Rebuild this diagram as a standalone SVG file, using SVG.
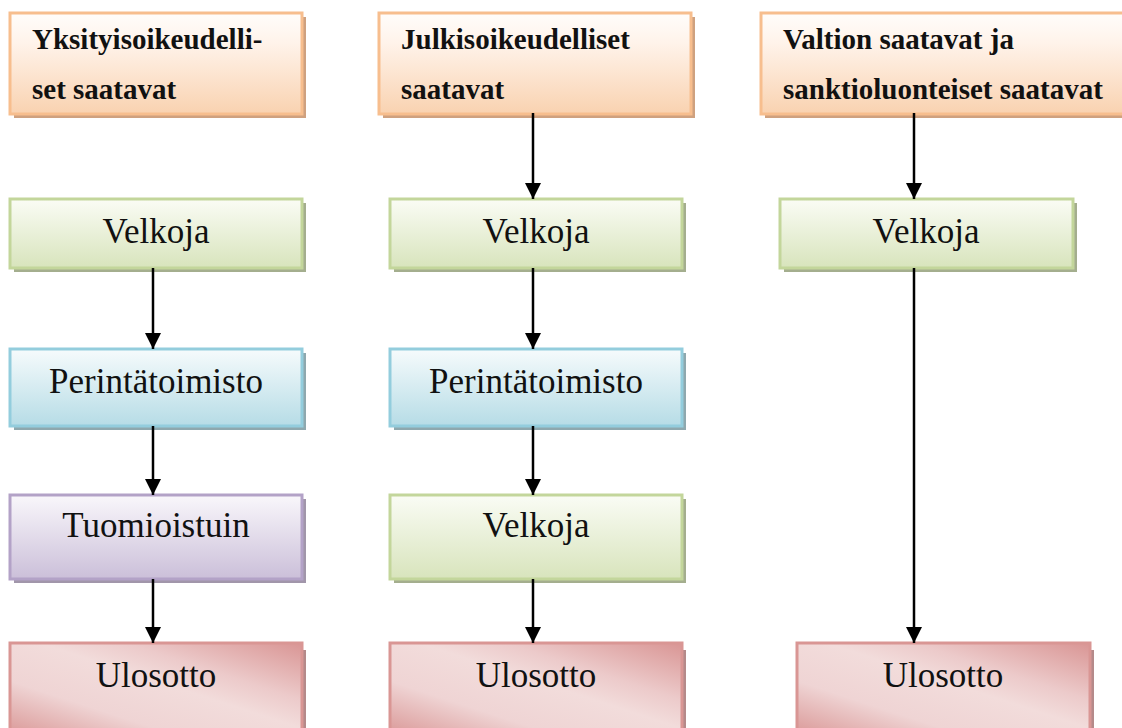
<svg xmlns="http://www.w3.org/2000/svg" width="1122" height="728" viewBox="0 0 1122 728">
<style>
.hdr{stroke:#f7be8e;stroke-width:3;fill:url(#gO)}
.hsh{fill:#cfa17f}
.grn{stroke:#c3d69b;stroke-width:3;fill:url(#gG)}
.gsh{fill:#a4ae8e}
.blu{stroke:#93cddd;stroke-width:3;fill:url(#gB)}
.bsh{fill:#8ea8ae}
.pur{stroke:#b3a2c7;stroke-width:3;fill:url(#gP)}
.psh{fill:#a196aa}
.red{stroke:#d99694;stroke-width:3;fill:url(#gR)}
.rsh{fill:#b58a8a}
.con line{stroke:#000;stroke-width:2.5;marker-end:url(#ah)}
</style>
<defs>
<linearGradient id="gO" x1="0" y1="0" x2="0" y2="1"><stop offset="0" stop-color="#fffdfb"/><stop offset="0.3" stop-color="#fff3ea"/><stop offset="1" stop-color="#f9d2b0"/></linearGradient>
<linearGradient id="gG" x1="0" y1="0" x2="0" y2="1"><stop offset="0" stop-color="#fafcf5"/><stop offset="1" stop-color="#d8e4bc"/></linearGradient>
<linearGradient id="gB" x1="0" y1="0" x2="0" y2="1"><stop offset="0" stop-color="#f6fbfc"/><stop offset="1" stop-color="#b6dce6"/></linearGradient>
<linearGradient id="gP" x1="0" y1="0" x2="0" y2="1"><stop offset="0" stop-color="#f9f7fb"/><stop offset="1" stop-color="#cbbfd9"/></linearGradient>
<linearGradient id="gR" x1="0" y1="1" x2="1" y2="0"><stop offset="0" stop-color="#d99594"/><stop offset="0.3" stop-color="#efd4d4"/><stop offset="0.55" stop-color="#f2dcdb"/><stop offset="0.7" stop-color="#eccaca"/><stop offset="1" stop-color="#d99594"/></linearGradient>
<marker id="ah" viewBox="0 0 10 10" refX="10" refY="5" markerUnits="userSpaceOnUse" markerWidth="16" markerHeight="16" orient="auto"><path d="M0,0 L10,5 L0,10 Z" fill="#000"/></marker>
</defs>
<g font-family="Liberation Serif" font-weight="bold" font-size="29" fill="#111">
<g id="h1"><rect class="hsh" x="14" y="17" width="292" height="101"/><rect class="hdr" x="10" y="13" width="292" height="101"/><text x="32" y="49">Yksityisoikeudelli-</text><text x="32" y="99">set saatavat</text></g>
<g id="h2"><rect class="hsh" x="383" y="17" width="312" height="101"/><rect class="hdr" x="379" y="13" width="312" height="101"/><text x="401" y="49">Julkisoikeudelliset</text><text x="401" y="99">saatavat</text></g>
<g id="h3"><rect class="hsh" x="765" y="17" width="362" height="101"/><rect class="hdr" x="761" y="13" width="364" height="101"/><text x="783" y="49">Valtion saatavat ja</text><text x="783" y="99">sanktioluonteiset saatavat</text></g>
</g>
<g font-family="Liberation Serif" font-size="35" fill="#111" text-anchor="middle">
<g id="v1"><rect class="gsh" x="14" y="203" width="292" height="69"/><rect class="grn" x="10" y="199" width="292" height="69"/><text x="156" y="243">Velkoja</text></g>
<g id="p1"><rect class="bsh" x="14" y="353" width="292" height="77"/><rect class="blu" x="10" y="349" width="292" height="77"/><text x="156" y="393">Perintätoimisto</text></g>
<g id="t1"><rect class="psh" x="14" y="499" width="292" height="84"/><rect class="pur" x="10" y="495" width="292" height="84"/><text x="156" y="537">Tuomioistuin</text></g>
<g id="u1"><rect class="rsh" x="14" y="650" width="292" height="90"/><rect class="red" x="10" y="643" width="292" height="95"/><text x="156" y="687">Ulosotto</text></g>

<g id="v2"><rect class="gsh" x="394" y="203" width="292" height="69"/><rect class="grn" x="390" y="199" width="292" height="69"/><text x="536" y="243">Velkoja</text></g>
<g id="p2"><rect class="bsh" x="394" y="353" width="292" height="77"/><rect class="blu" x="390" y="349" width="292" height="77"/><text x="536" y="393">Perintätoimisto</text></g>
<g id="v2b"><rect class="gsh" x="394" y="499" width="292" height="84"/><rect class="grn" x="390" y="495" width="292" height="84"/><text x="536" y="537">Velkoja</text></g>
<g id="u2"><rect class="rsh" x="394" y="650" width="292" height="90"/><rect class="red" x="390" y="643" width="292" height="95"/><text x="536" y="687">Ulosotto</text></g>

<g id="v3"><rect class="gsh" x="784" y="203" width="293" height="69"/><rect class="grn" x="780" y="199" width="293" height="69"/><text x="926" y="243">Velkoja</text></g>
<g id="u3"><rect class="rsh" x="801" y="650" width="293" height="90"/><rect class="red" x="797" y="643" width="293" height="95"/><text x="943" y="687">Ulosotto</text></g>
</g>
<g id="connectors" class="con">
<line x1="153" y1="268" x2="153" y2="349"/>
<line x1="153" y1="426" x2="153" y2="495"/>
<line x1="153" y1="579" x2="153" y2="643"/>
<line x1="533" y1="113" x2="533" y2="199"/>
<line x1="533" y1="268" x2="533" y2="349"/>
<line x1="533" y1="426" x2="533" y2="495"/>
<line x1="533" y1="579" x2="533" y2="643"/>
<line x1="914" y1="113" x2="914" y2="199"/>
<line x1="914" y1="268" x2="914" y2="643"/>
</g>
</svg>
